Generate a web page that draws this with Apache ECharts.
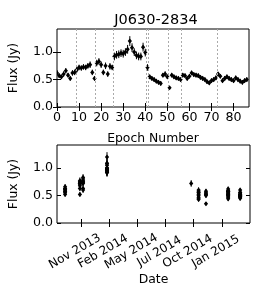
<!DOCTYPE html>
<html>
<head>
<meta charset="utf-8">
<script src="https://cdn.jsdelivr.net/npm/echarts@6/dist/echarts.min.js"></script>
<style>
html,body{margin:0;padding:0;background:#fff;}
#c{width:263px;height:300px;}
</style>
</head>
<body>
<div id="c"></div>
<script>
const title = 'J0630-2834';
// flux per epoch (Jy), epochs 0..86
const epochFlux = [
  0.62, 0.57, 0.55, 0.60, 0.66, 0.58, 0.52, 0.62, 0.63,
  0.68, 0.72, 0.71, 0.73, 0.72, 0.75, 0.77, 0.63, 0.52,
  0.80, 0.83, 0.77, 0.63, 0.75, 0.60, 0.74, 0.72,
  0.92, 0.95, 0.96, 0.98, 0.97, 1.00, 1.05, 1.20, 1.08, 1.00, 0.94, 0.92, 0.92, 1.09, 0.99,
  0.72,
  0.55, 0.52, 0.50, 0.47, 0.45, 0.43, 0.58, 0.60, 0.55,
  0.35, 0.58, 0.55, 0.53, 0.52, 0.50,
  0.58, 0.57, 0.52, 0.56, 0.62, 0.59, 0.58, 0.57, 0.54, 0.52, 0.50, 0.46, 0.44, 0.48, 0.50, 0.53,
  0.60, 0.56, 0.48, 0.52, 0.55, 0.52, 0.50, 0.48, 0.53, 0.50, 0.47, 0.45, 0.48, 0.50
];
const epochErr = [
  0.05, 0.04, 0.04, 0.05, 0.05, 0.04, 0.04, 0.05, 0.05,
  0.05, 0.05, 0.05, 0.05, 0.05, 0.05, 0.06, 0.05, 0.04,
  0.06, 0.06, 0.06, 0.05, 0.06, 0.05, 0.06, 0.05,
  0.07, 0.07, 0.07, 0.07, 0.07, 0.07, 0.08, 0.09, 0.08, 0.07, 0.07, 0.07, 0.07, 0.08, 0.07,
  0.06,
  0.04, 0.04, 0.04, 0.04, 0.04, 0.04, 0.04, 0.05, 0.04,
  0.03, 0.04, 0.04, 0.04, 0.04, 0.04,
  0.04, 0.04, 0.04, 0.04, 0.04, 0.04, 0.04, 0.04, 0.04, 0.04, 0.04, 0.04, 0.04, 0.04, 0.04, 0.04,
  0.04, 0.04, 0.04, 0.04, 0.04, 0.04, 0.04, 0.04, 0.04, 0.04, 0.04, 0.04, 0.04, 0.04
];
// observing sessions: first epoch of each session and its date
const groupStarts = [0, 9, 18, 26, 41, 42, 51, 57, 73];
const groupDates = ['2013-10-14', '2013-11-25', '2013-12-04', '2014-02-10',
                    '2014-10-07', '2014-10-28', '2014-11-18', '2015-01-20', '2015-02-23'];
const epochTicks = [0, 10, 20, 30, 40, 50, 60, 70, 80];
const fluxTicks = [0, 0.5, 1.0];
const dateTicks = ['2013-11-28', '2014-02-16', '2014-05-07', '2014-07-26', '2014-10-14', '2015-01-02'];
const dateTickLabels = ['Nov 2013', 'Feb 2014', 'May 2014', 'Jul 2014', 'Oct 2014', 'Jan 2015'];
const dateRange = ['2013-09-21', '2015-03-23'];
const epochMax = 87;
const fluxMax = 1.42;

// ---- build ----
const ts = s => { const [y, m, d] = s.split('-').map(Number); return Date.UTC(y, m - 1, d); };
const topData = epochFlux.map((f, i) => [i, f, epochErr[i]]);
const epochDate = epochFlux.map((f, i) => {
  let g = 0;
  for (let k = 0; k < groupStarts.length; k++) if (i >= groupStarts[k]) g = k;
  return ts(groupDates[g]);
});
const botData = epochFlux.map((f, i) => [epochDate[i], f, epochErr[i]]);
const sessionLines = groupStarts.slice(1).map(s => ({ xAxis: s - 0.5 }));
const dateTickVals = dateTicks.map(ts);

const FONT = 'DejaVu Sans';
function errRender(params, api) {
  const x = api.value(0), y = api.value(1), e = api.value(2);
  const p = api.coord([x, y]);
  const t = api.coord([x, y + e]);
  const b = api.coord([x, y - e]);
  const w = 2.1, h = 2.6;
  return {
    type: 'group',
    children: [
      { type: 'line', shape: { x1: p[0], y1: t[1], x2: p[0], y2: b[1] },
        style: { stroke: '#000', lineWidth: 1 } },
      { type: 'polygon', shape: { points: [[p[0] - w, p[1]], [p[0], p[1] - h], [p[0] + w, p[1]], [p[0], p[1] + h]] },
        style: { fill: '#000' } }
    ]
  };
}

const tickStyle = { show: true, inside: true, length: 4, lineStyle: { color: '#000', width: 1 } };
const lblStyle = { color: '#000', fontFamily: FONT, fontSize: 12.6 };

function yAx(grid, pos, labels) {
  return {
    type: 'value', gridIndex: grid, position: pos, min: 0, max: fluxMax,
    splitLine: { show: false }, axisLine: { show: false },
    axisTick: Object.assign({}, tickStyle, { customValues: fluxTicks }),
    axisLabel: labels ? Object.assign({}, lblStyle, { customValues: fluxTicks, margin: 4,
      formatter: v => v.toFixed(1) }) : { show: false },
    name: labels ? 'Flux (Jy)' : '', nameLocation: 'middle', nameGap: 37,
    nameTextStyle: { color: '#000', fontFamily: FONT, fontSize: 12.4 }
  };
}

const option = {
  animation: false,
  backgroundColor: '#fff',
  title: { text: title, left: 151, top: 8, textAlign: 'center',
    textStyle: { color: '#000', fontFamily: FONT, fontSize: 14.5, fontWeight: 'normal' } },
  grid: [
    { left: 53, top: 29, width: 196, height: 78, show: true, borderColor: '#000', borderWidth: 1, backgroundColor: 'transparent' },
    { left: 53, top: 145, width: 197, height: 78, show: true, borderColor: '#000', borderWidth: 1, backgroundColor: 'transparent' }
  ],
  xAxis: [
    { type: 'value', gridIndex: 0, position: 'bottom', min: 0, max: epochMax,
      splitLine: { show: false }, axisLine: { show: false },
      axisTick: Object.assign({}, tickStyle, { customValues: epochTicks }),
      axisLabel: Object.assign({}, lblStyle, { customValues: epochTicks, margin: 4 }),
      name: 'Epoch Number', nameLocation: 'middle', nameGap: 26,
      nameTextStyle: { color: '#000', fontFamily: FONT, fontSize: 12.4 } },
    { type: 'value', gridIndex: 0, position: 'top', min: 0, max: epochMax,
      splitLine: { show: false }, axisLine: { show: false },
      axisTick: Object.assign({}, tickStyle, { customValues: epochTicks }),
      axisLabel: { show: false } },
    { type: 'value', gridIndex: 1, position: 'bottom', min: ts(dateRange[0]), max: ts(dateRange[1]),
      splitLine: { show: false }, axisLine: { show: false },
      axisTick: Object.assign({}, tickStyle, { customValues: dateTickVals }),
      axisLabel: Object.assign({}, lblStyle, { customValues: dateTickVals, margin: 25, rotate: 30, fontSize: 12,
        align: 'center', verticalAlign: 'middle', padding: [0, 14, 0, 0],
        formatter: v => { const i = dateTickVals.indexOf(v); return i >= 0 ? dateTickLabels[i] : ''; } }),
      name: 'Date', nameLocation: 'middle', nameGap: 49,
      nameTextStyle: { color: '#000', fontFamily: FONT, fontSize: 12.4 } },
    { type: 'value', gridIndex: 1, position: 'top', min: ts(dateRange[0]), max: ts(dateRange[1]),
      splitLine: { show: false }, axisLine: { show: false },
      axisTick: Object.assign({}, tickStyle, { customValues: dateTickVals }),
      axisLabel: { show: false } }
  ],
  yAxis: [
    yAx(0, 'left', true), yAx(0, 'right', false),
    yAx(1, 'left', true), yAx(1, 'right', false)
  ],
  series: [
    { type: 'custom', xAxisIndex: 0, yAxisIndex: 0, data: topData, renderItem: errRender, clip: true,
      encode: { x: 0, y: 1 },
      markLine: { silent: true, symbol: 'none', label: { show: false },
        lineStyle: { color: '#aaa', type: [2, 2], width: 1 }, data: sessionLines } },
    { type: 'custom', xAxisIndex: 2, yAxisIndex: 2, data: botData, renderItem: errRender, clip: true,
      encode: { x: 0, y: 1 } }
  ]
};
const chart = echarts.init(document.getElementById('c'), null, { renderer: 'canvas' });
chart.setOption(option);
</script>
</body>
</html>
